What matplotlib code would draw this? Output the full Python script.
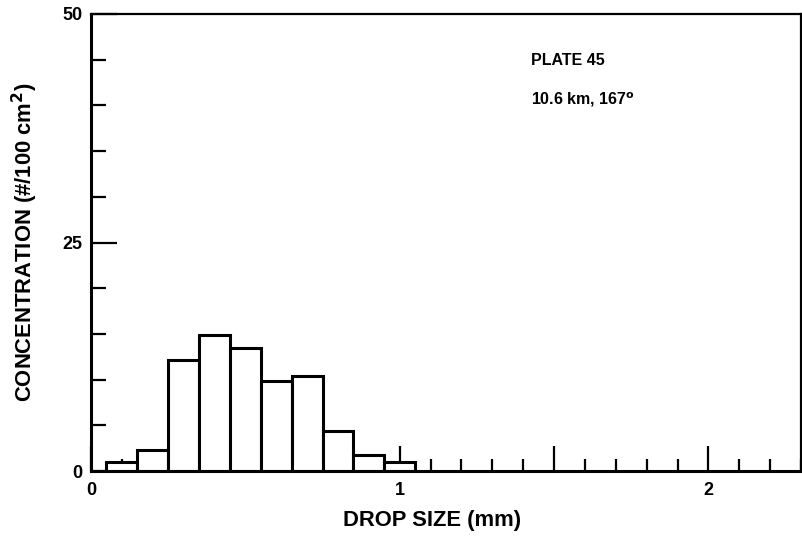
import matplotlib

matplotlib.use("Agg")
import matplotlib.pyplot as plt
from matplotlib.ticker import MultipleLocator, FixedLocator

plt.rcParams["font.family"] = ["Liberation Sans", "DejaVu Sans"]
plt.rcParams["font.weight"] = "bold"
plt.rcParams["mathtext.default"] = "bf"

# Drop-size histogram, 0.1 mm bins centred on 0.1 .. 1.0 mm
bin_centers = [0.1, 0.2, 0.3, 0.4, 0.5, 0.6, 0.7, 0.8, 0.9, 1.0]
concentration = [1.0, 2.3, 12.1, 14.9, 13.5, 9.9, 10.4, 4.4, 1.8, 1.0]
bin_width = 0.1

x_major = [0, 0.5, 1, 1.5, 2]
x_major_labels = ["0", "", "1", "", "2"]
y_major = [0, 25, 50]

fig = plt.figure(figsize=(8.03, 5.37), dpi=100)
ax = fig.add_axes([91 / 803, 1 - 471 / 537, (801 - 91) / 803, (471 - 14) / 537])

ax.bar(bin_centers, concentration, width=bin_width, facecolor="white",
       edgecolor="black", linewidth=2.2, zorder=2)

ax.set_xlim(0, 2.3)
ax.set_ylim(0, 50)

ax.xaxis.set_major_locator(FixedLocator(x_major))
ax.set_xticklabels(x_major_labels)
ax.xaxis.set_minor_locator(MultipleLocator(0.1))
ax.yaxis.set_major_locator(FixedLocator(y_major))
ax.yaxis.set_minor_locator(MultipleLocator(5))

ax.tick_params(axis="x", which="major", direction="in", length=18, width=1.6,
               labelsize=13, pad=8)
ax.tick_params(axis="x", which="minor", direction="in", length=8.5, width=1.6)
ax.tick_params(axis="y", which="major", direction="in", length=19, width=1.6,
               labelsize=13, pad=6)
ax.tick_params(axis="y", which="minor", direction="in", length=11, width=1.6)
for tick in ax.get_xticklines() + ax.get_yticklines():
    tick.set_zorder(3)

ax.spines["left"].set_linewidth(2.2)
ax.spines["bottom"].set_linewidth(2.2)
ax.spines["top"].set_linewidth(1.6)
ax.spines["right"].set_linewidth(1.6)

ax.set_xlabel("DROP SIZE (mm)", fontsize=15.8, fontweight="bold")
ax.xaxis.set_label_coords(0.48, -0.109)
ax.xaxis.label.set_va("center")
ax.set_ylabel("CONCENTRATION (#/100 cm$^\\mathbf{2}$)", fontsize=15.8,
              fontweight="bold")
ax.yaxis.set_label_coords(-0.093, 0.5)
ax.yaxis.label.set_va("center")

ax.text(0.62, 0.899, "PLATE 45", transform=ax.transAxes, fontsize=11.5,
        fontweight="bold", va="center")
ax.text(0.62, 0.812, "10.6 km, 167$^\\mathbf{o}$", transform=ax.transAxes,
        fontsize=11.5, fontweight="bold", va="center")

fig.savefig("out.png", dpi=100)
